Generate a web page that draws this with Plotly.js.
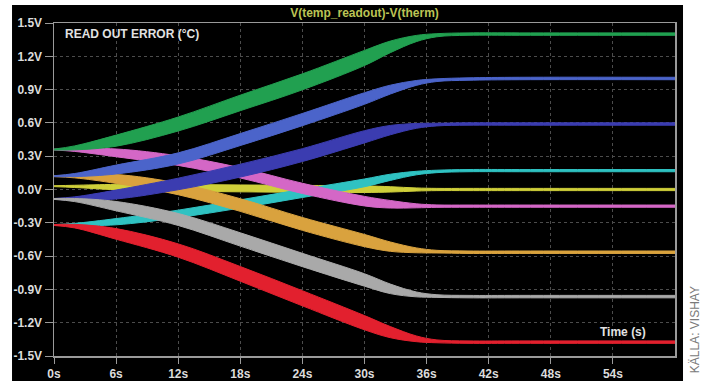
<!DOCTYPE html>
<html>
<head>
<meta charset="utf-8">
<script src="https://cdn.plot.ly/plotly-3.0.1.min.js"></script>
<style>html,body{margin:0;padding:0;background:#fff;}#chart{width:707px;height:381px;}</style>
</head>
<body>
<div id="chart"></div>
<script>
// ---- data (time in s, values in V) ----
const times = [0, 2, 6, 12, 18, 24, 30, 32.5, 35, 37, 40, 45, 60];

const xTickVals = [0, 6, 12, 18, 24, 30, 36, 42, 48, 54];
const xTickText = ["0s", "6s", "12s", "18s", "24s", "30s", "36s", "42s", "48s", "54s"];
const yTickVals = [1.5, 1.2, 0.9, 0.6, 0.3, 0.0, -0.3, -0.6, -0.9, -1.2, -1.5];
const yTickText = ["1.5V", "1.2V", "0.9V", "0.6V", "0.3V", "0.0V", "-0.3V", "-0.6V", "-0.9V", "-1.2V", "-1.5V"];

// band centre values and half thickness, one pair per band
const yellowMid  = [0.03, 0.028, 0.022, 0.015, 0.01, 0.006, 0.003, 0.001, 0.0, 0.0, 0.0, 0.0, 0.0];
const yellowHalf = [0.004, 0.01, 0.024, 0.03, 0.031, 0.031, 0.03, 0.024, 0.014, 0.01, 0.01, 0.01, 0.01];

const cyanMid  = [-0.32, -0.315, -0.29, -0.22, -0.13, -0.035, 0.06, 0.11, 0.148, 0.163, 0.17, 0.17, 0.17];
const cyanHalf = [0.004, 0.01, 0.028, 0.034, 0.037, 0.037, 0.035, 0.028, 0.016, 0.011, 0.01, 0.01, 0.01];

const magentaMid  = [0.36, 0.355, 0.33, 0.26, 0.15, 0.01, -0.105, -0.133, -0.147, -0.15, -0.15, -0.15, -0.15];
const magentaHalf = [0.004, 0.012, 0.035, 0.043, 0.046, 0.046, 0.043, 0.034, 0.018, 0.011, 0.01, 0.01, 0.01];

const orangeMid  = [0.12, 0.118, 0.095, 0.005, -0.14, -0.31, -0.46, -0.515, -0.548, -0.56, -0.565, -0.565, -0.565];
const orangeHalf = [0.004, 0.013, 0.04, 0.052, 0.057, 0.058, 0.055, 0.042, 0.022, 0.012, 0.011, 0.011, 0.011];

const darkBlueMid  = [-0.085, -0.08, -0.045, 0.05, 0.17, 0.31, 0.475, 0.535, 0.573, 0.585, 0.59, 0.59, 0.59];
const darkBlueHalf = [0.004, 0.014, 0.04, 0.052, 0.058, 0.058, 0.055, 0.042, 0.022, 0.012, 0.011, 0.011, 0.011];

const blueMid  = [0.12, 0.13, 0.18, 0.28, 0.45, 0.63, 0.82, 0.90, 0.96, 0.985, 0.995, 1.0, 1.0];
const blueHalf = [0.004, 0.014, 0.04, 0.05, 0.054, 0.055, 0.052, 0.04, 0.022, 0.012, 0.011, 0.011, 0.011];

const grayMid  = [-0.085, -0.095, -0.15, -0.27, -0.45, -0.635, -0.815, -0.895, -0.945, -0.96, -0.965, -0.965, -0.965];
const grayHalf = [0.004, 0.014, 0.042, 0.054, 0.06, 0.06, 0.056, 0.043, 0.022, 0.012, 0.011, 0.011, 0.011];

const redMid  = [-0.32, -0.33, -0.40, -0.55, -0.76, -0.98, -1.20, -1.285, -1.345, -1.368, -1.375, -1.375, -1.375];
const redHalf = [0.004, 0.016, 0.048, 0.06, 0.066, 0.068, 0.064, 0.05, 0.026, 0.013, 0.011, 0.011, 0.011];

const greenMid  = [0.36, 0.375, 0.44, 0.59, 0.78, 0.97, 1.185, 1.285, 1.36, 1.39, 1.40, 1.40, 1.40];
const greenHalf = [0.004, 0.018, 0.05, 0.063, 0.07, 0.072, 0.068, 0.052, 0.028, 0.014, 0.011, 0.011, 0.011];

// drawing order (later = on top)
const bands = [
  {mid: yellowMid,   half: yellowHalf,   color: "#cfcf3a"},
  {mid: cyanMid,     half: cyanHalf,     color: "#2fc2c2"},
  {mid: magentaMid,  half: magentaHalf,  color: "#d467c6"},
  {mid: orangeMid,   half: orangeHalf,   color: "#d9a23e"},
  {mid: darkBlueMid, half: darkBlueHalf, color: "#3b3cb0"},
  {mid: blueMid,     half: blueHalf,     color: "#4b64ca"},
  {mid: grayMid,     half: grayHalf,     color: "#a9a9a9"},
  {mid: redMid,      half: redHalf,      color: "#e2202e"},
  {mid: greenMid,    half: greenHalf,    color: "#21a050"}
];

const traces = [];
bands.forEach(b => {
  const lower = b.mid.map((v, i) => v - b.half[i]);
  const upper = b.mid.map((v, i) => v + b.half[i]);
  traces.push({x: times, y: lower, type: "scatter", mode: "lines",
    line: {color: b.color, width: 1, shape: "spline", smoothing: 1},
    hoverinfo: "skip", showlegend: false});
  traces.push({x: times, y: upper, type: "scatter", mode: "lines", fill: "tonexty",
    fillcolor: b.color,
    line: {color: b.color, width: 1, shape: "spline", smoothing: 1},
    hoverinfo: "skip", showlegend: false});
});

const tickFont = {family: "Liberation Sans, Arial, sans-serif", size: 12, color: "#dcdcdc", weight: "bold"};

const layout = {
  width: 707, height: 381,
  margin: {l: 54, r: 32, t: 23, b: 25},
  paper_bgcolor: "#ffffff",
  plot_bgcolor: "#000000",
  showlegend: false,
  title: {
    text: "V(temp_readout)-V(therm)",
    font: {family: "Liberation Sans, Arial, sans-serif", size: 12, color: "#bcc455", weight: "bold"},
    x: 0.5, xref: "paper", xanchor: "center",
    y: 1 - 13 / 381, yref: "container", yanchor: "middle"
  },
  xaxis: {
    range: [0, 60],
    tickvals: xTickVals, ticktext: xTickText,
    tickfont: tickFont,
    ticks: "outside", ticklen: 6, tickcolor: "#9a9a9a", tickwidth: 1,
    showgrid: true, gridcolor: "#4c4c4c", griddash: "dot", gridwidth: 1,
    showline: true, linecolor: "#9a9a9a", linewidth: 1.5, mirror: true,
    zeroline: false, fixedrange: true
  },
  yaxis: {
    range: [-1.5, 1.5],
    tickvals: yTickVals, ticktext: yTickText,
    tickfont: tickFont,
    ticks: "outside", ticklen: 8, tickcolor: "#9a9a9a", tickwidth: 1,
    showgrid: true, gridcolor: "#4c4c4c", griddash: "dot", gridwidth: 1,
    showline: true, linecolor: "#9a9a9a", linewidth: 1.5, mirror: true,
    zeroline: false, fixedrange: true
  },
  shapes: [{
    type: "rect", xref: "paper", yref: "paper", layer: "below",
    x0: -0.0676, x1: 1.0129, y0: -0.08, y1: 1.054,
    fillcolor: "#000000", line: {width: 0}
  }],
  annotations: [
    {text: "READ OUT ERROR (°C)", xref: "paper", yref: "paper", x: 0.0145, y: 0.967,
     xanchor: "left", yanchor: "middle", showarrow: false,
     font: {family: "Liberation Sans, Arial, sans-serif", size: 12, color: "#e2e2e2", weight: "bold"}},
    {text: "Time (s)", xref: "paper", yref: "paper", x: 0.9565, y: 0.072,
     xanchor: "right", yanchor: "middle", showarrow: false,
     font: {family: "Liberation Sans, Arial, sans-serif", size: 12, color: "#e2e2e2", weight: "bold"}},
    {text: "KÄLLA: VISHAY", xref: "paper", yref: "paper", x: 1.032, y: 0.08,
     xanchor: "center", yanchor: "middle", textangle: -90, showarrow: false,
     font: {family: "Liberation Sans, Arial, sans-serif", size: 12, color: "#7a7a7a"}}
  ]
};

Plotly.newPlot("chart", traces, layout, {staticPlot: true, displayModeBar: false});
</script>
</body>
</html>
